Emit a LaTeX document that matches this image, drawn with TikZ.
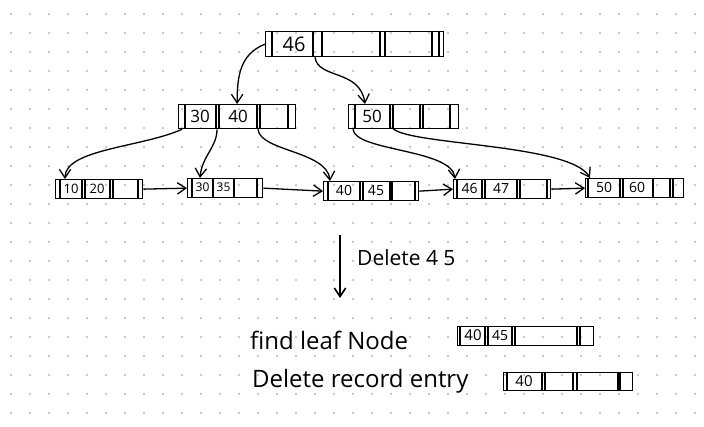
\documentclass[tikz,border=0pt]{standalone}
\usepackage{fontspec}
\setmainfont{Open Sans}
\usetikzlibrary{arrows.meta,calc}
\tikzset{
  rec/.style={draw, line width=1.3pt, inner sep=0pt, anchor=north west},
  bar/.style={line width=1.3pt},
  key/.style={inner sep=0pt, font=\fontsize{13}{13}\selectfont},
  ptr/.style={-{Straight Barb[length=3mm,width=4mm]}, line width=1.3pt},
  note/.style={anchor=west, inner sep=0pt, font=\fontsize{24}{26}\selectfont},
  grid dot/.style={fill=black!28},
}
\begin{document}
\begin{tikzpicture}[x=1pt,y=-1pt]
  \useasboundingbox (0,0) rectangle (704,427);
  \fill[white] (0,0) rectangle (704,427);
  % dotted paper
  \foreach \i in {0,...,36}{
    \foreach \j in {0,...,21}{
      \fill[grid dot] (11+19*\i,14+19*\j) circle[radius=1.1];
    }
  }

  % root
  \node[rec, minimum width=178, minimum height=25] (root) at (265,31) {};
  \foreach \x in {272,313,322,380,385,432,439}
    \draw[bar] (\x,0 |- root.north) -- (\x,0 |- root.south);
  \node[key, font=\fontsize{20}{20}\selectfont] (k46) at (294,44) {46};

  % inner nodes
  \node[rec, minimum width=117, minimum height=24] (lA) at (178,104) {};
  \foreach \x in {185,216,219,257,260,288}
    \draw[bar] (\x,0 |- lA.north) -- (\x,0 |- lA.south);
  \node[key, font=\fontsize{17}{17}\selectfont] (k30) at (200,116) {30};
  \node[key, font=\fontsize{17}{17}\selectfont] (k40) at (238,116) {40};

  \node[rec, minimum width=110, minimum height=24] (rB) at (348,104) {};
  \foreach \x in {355,390,393,420,423,450}
    \draw[bar] (\x,0 |- rB.north) -- (\x,0 |- rB.south);
  \node[key, font=\fontsize{17}{17}\selectfont] (k50) at (372,116) {50};

  % leaves
  \node[rec, minimum width=87, minimum height=19] (L1) at (55,179) {};
  \foreach \x in {60,82,85,110,113,138}
    \draw[bar] (\x,0 |- L1.north) -- (\x,0 |- L1.south);
  \node[key] (l10) at (71,188.5) {10};
  \node[key] (l20) at (97,188.5) {20};

  \node[rec, minimum width=75, minimum height=19] (L2) at (187,178) {};
  \foreach \x in {192,213,234,257}
    \draw[bar] (\x,0 |- L2.north) -- (\x,0 |- L2.south);
  \node[key, font=\fontsize{12}{12}\selectfont] (l30) at (202.5,187.5) {30};
  \node[key, font=\fontsize{12}{12}\selectfont] (l35) at (223.5,187.5) {35};

  \node[rec, minimum width=95, minimum height=19] (L3) at (323,181) {};
  \foreach \x in {328,360,363,390,392,415}
    \draw[bar] (\x,0 |- L3.north) -- (\x,0 |- L3.south);
  \node[key, font=\fontsize{14}{14}\selectfont] (l40) at (344,190.5) {40};
  \node[key, font=\fontsize{14}{14}\selectfont] (l45) at (376,190.5) {45};

  \node[rec, minimum width=97, minimum height=19] (L4) at (453,179) {};
  \foreach \x in {457,482,485,517,520,547}
    \draw[bar] (\x,0 |- L4.north) -- (\x,0 |- L4.south);
  \node[key, font=\fontsize{14}{14}\selectfont] (l46) at (469.5,188.5) {46};
  \node[key, font=\fontsize{14}{14}\selectfont] (l47) at (501,188.5) {47};

  \node[rec, minimum width=98, minimum height=19] (L5) at (585,178) {};
  \foreach \x in {588,620,623,653,670,673}
    \draw[bar] (\x,0 |- L5.north) -- (\x,0 |- L5.south);
  \node[key, font=\fontsize{14}{14}\selectfont] (l50) at (604,187.5) {50};
  \node[key, font=\fontsize{14}{14}\selectfont] (l60) at (637,187.5) {60};

  % child pointers
  \draw[ptr] (root.west) .. controls +(-25,10) and +(0,-28) .. (lA.north);
  \draw[ptr] ($(root.south west)+(50,0)$) .. controls +(3,22) and +(-5,-35) .. ($(rB.north west)+(17,0)$);
  \draw[ptr] ($(lA.south west)+(4,0)$) .. controls +(-40,18) and +(0,-30) .. ($(L1.north west)+(10,0)$);
  \draw[ptr] ($(lA.south west)+(39,0)$) .. controls +(0,18) and +(2,-22) .. ($(L2.north west)+(13,0)$);
  \draw[ptr] ($(lA.south west)+(80,0)$) .. controls +(2,22) and +(-3,-30) .. ($(L3.north west)+(7,0)$);
  \draw[ptr] ($(rB.south west)+(5,0)$) .. controls +(2,22) and +(-3,-30) .. ($(L4.north west)+(2,0)$);
  \draw[ptr] ($(rB.south west)+(44,-2)$) .. controls +(10,18) and +(-20,-35) .. ($(L5.north west)+(5,0)$);

  % leaf chain
  \draw[ptr] (L1.east) -- (L2.west);
  \draw[ptr] (L2.east) -- (L3.west);
  \draw[ptr] (L3.east) -- (L4.west);
  \draw[ptr] (L4.east) -- (L5.west);

  % delete step
  \coordinate (dtop) at (340,235);
  \coordinate (dbot) at (340,298);
  \draw[ptr, line width=1.6pt] (dtop) -- (dbot);
  \node[note, font=\fontsize{21}{23}\selectfont] (dlbl) at (357,258) {Delete 4 5};

  % find leaf node
  \node[note] (find) at (250,340) {find leaf Node};
  \node[rec, minimum width=136, minimum height=19] (rfind) at (457,326) {};
  \foreach \x in {460,485,488,512,515,577,580}
    \draw[bar] (\x,0 |- rfind.north) -- (\x,0 |- rfind.south);
  \node[key, font=\fontsize{15}{15}\selectfont] (f40) at (473,335.5) {40};
  \node[key, font=\fontsize{14}{14}\selectfont] (f45) at (500,335.5) {45};

  % delete record entry
  \node[note] (del) at (252,381) {Delete record entry};
  \node[rec, minimum width=129, minimum height=18] (rdel) at (503,372) {};
  \foreach \x in {507,542,545,573,577,618,620}
    \draw[bar] (\x,0 |- rdel.north) -- (\x,0 |- rdel.south);
  \node[key, font=\fontsize{15}{15}\selectfont] (d40) at (524,381) {40};
\end{tikzpicture}
\end{document}
